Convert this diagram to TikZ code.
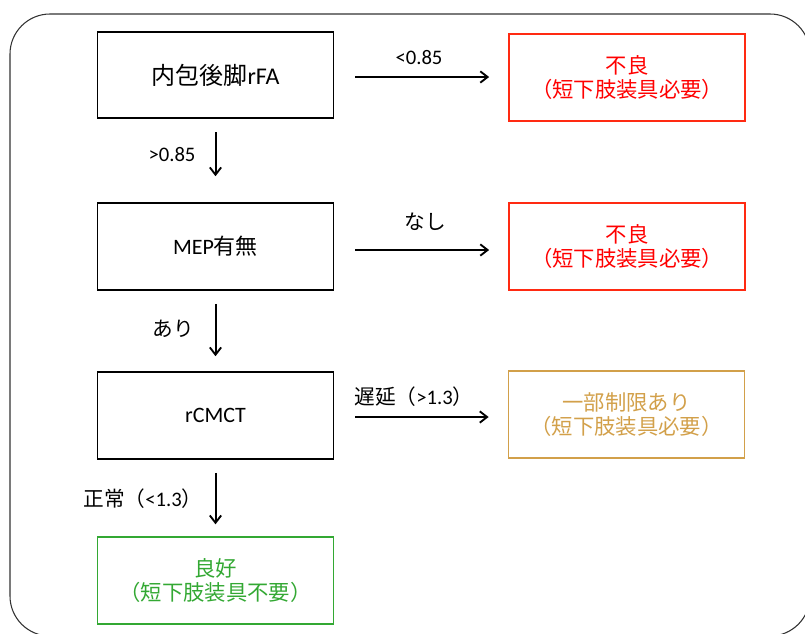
\documentclass[tikz,border=0pt]{standalone}
\usepackage{fontspec}
\setmainfont{Noto Sans CJK JP}
\newfontfamily\lat{Carlito}
\usetikzlibrary{arrows.meta,calc}
\definecolor{ngred}{HTML}{FF0000}
\definecolor{ngline}{HTML}{FF2A12}
\definecolor{mytan}{HTML}{D2A04A}
\definecolor{okgreen}{HTML}{33A833}
\definecolor{framegray}{HTML}{333333}
\begin{document}
\begin{tikzpicture}[x=0.75pt,y=-0.75pt,
  box/.style={draw, line width=1.4pt, minimum width=177pt, minimum height=65pt,
    align=center, inner sep=0pt, font=\fontsize{16.5}{20}\selectfont},
  resbox/.style={box, line width=1.3pt, font=\fontsize{16}{18}\selectfont},
  arr/.style={-{Straight Barb[length=5.5pt,width=8.5pt,line width=1.4pt]}, line width=1.5pt},
  lab/.style={inner sep=0pt, font=\fontsize{15.5}{18}\selectfont}]
\useasboundingbox (0,0) rectangle (805,633);
\draw[framegray, line width=0.8pt, rounded corners=30pt] (10,14) rectangle (810,636);

\node[box, font=\fontsize{18}{22}\selectfont] (b1) at (215.5,75) {内包後脚{\lat rFA}};
\node[resbox, ngline, text=ngred] (r1) at (627,77.5) {不良\\（短下肢装具必要）};
\node[box] (b2) at (215.5,246.5) {{\lat MEP}有無};
\node[resbox, ngline, text=ngred] (r2) at (627,246.5) {不良\\（短下肢装具必要）};
\node[box] (b3) at (215.5,415.5) {\lat rCMCT};
\node[resbox, mytan] (t3) at (626.5,414.5) {一部制限あり\\（短下肢装具必要）};
\node[resbox, okgreen] (g4) at (215.5,580.5) {良好\\（短下肢装具不要）};

\draw[arr] ($(b1.east)+(21,2)$) -- ($(r1.west)+(-19,-0.5)$);
\draw[arr] ($(b2.east)+(21,3.5)$) -- ($(r2.west)+(-19,3.5)$);
\draw[arr] ($(b3.east)+(21,1.5)$) -- ($(t3.west)+(-19,2.5)$);
\draw[arr] ($(b1.south)+(0,13)$) -- ($(b2.north)+(0,-26)$);
\draw[arr] ($(b2.south)+(0,13)$) -- ($(b3.north)+(0,-15)$);
\draw[arr] ($(b3.south)+(0,13)$) -- ($(g4.north)+(0,-12)$);

\node[lab] (l1) at (419,58) {\lat <0.85};
\node[lab] (l2) at (425,222) {なし};
\node[lab] (l3) at (414,397) {遅延（{\lat >1.3}）};
\node[lab] (l4) at (172,155) {\lat >0.85};
\node[lab] (l5) at (173,329) {あり};
\node[lab] (l6) at (143,499) {正常（{\lat <1.3}）};
\end{tikzpicture}
\end{document}
